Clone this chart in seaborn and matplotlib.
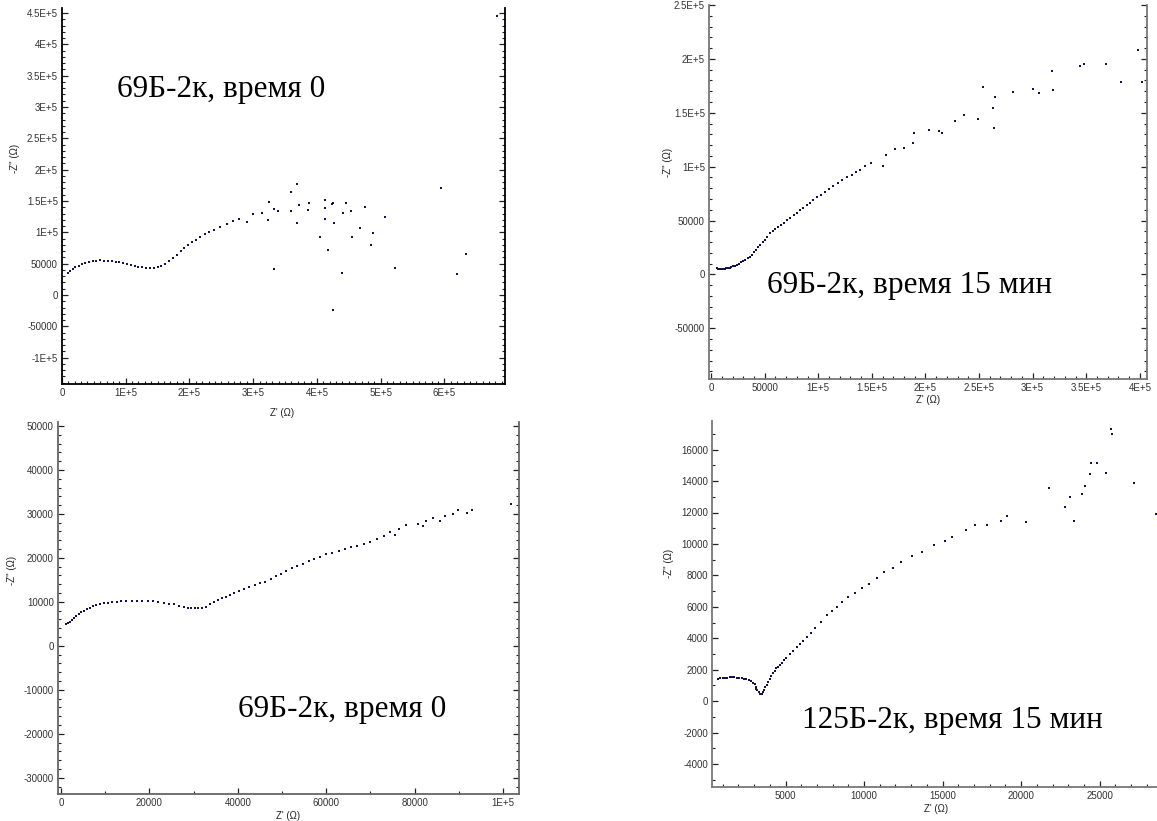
import numpy as np
import pandas as pd
import matplotlib
matplotlib.use("Agg")
import matplotlib.pyplot as plt
from matplotlib.ticker import MultipleLocator, FuncFormatter
import seaborn as sns

sns.set_theme(style="white")
plt.rcParams['font.family'] = ['Liberation Sans', 'DejaVu Sans']

# ---------------- data (kOhm) ----------------
# Panel 1: 69Б-2к, время 0 (top-left)
p1_re = [10, 13, 17, 21, 26, 31, 36, 42, 48, 54, 60, 66, 72, 78, 84, 90, 96, 102, 108, 114,
         120, 126, 132, 138, 144, 150, 156, 162, 168, 174, 180, 186, 192, 198, 204, 210, 217,
         224, 231, 238, 248, 259, 268, 277, 290, 300, 314, 323,
         325, 332, 339, 332, 360, 369, 372, 360, 369, 388, 386, 404, 413, 413, 413, 418, 423,
         425, 427, 425, 439, 441, 445, 453, 455, 467, 475, 484, 488, 507, 523, 595, 620, 634, 683]
p1_im = [35, 38, 41, 44, 46.5, 49, 51, 52.5, 54, 55, 55.5, 55, 54.5, 54, 53, 52, 51, 49.5, 48,
         46.5, 45, 44, 43, 42.5, 43.5, 45, 47, 50, 54, 59, 64, 70, 75, 80, 84, 88, 93, 97, 101,
         104, 109, 114, 118, 122, 117, 129, 130.5, 120,
         148.6, 137, 134, 41.5, 165, 177, 143, 134, 115.5, 147, 135, 93, 151, 139.5, 121, 72, 145,
         147, 115.5, -24, 35.6, 131, 147, 134, 93, 107.5, 140, 79.4, 99.5, 125, 43, 171.5, 33.5,
         65.5, 446]

# Panel 2: 69Б-2к, время 15 мин (top-right)
p2_re = [5.5, 6.5, 7.5, 8.5, 9.5, 10.5, 11.5, 12.5, 13.5, 14.5, 15.5, 16.5, 17.5, 18.5, 20, 22,
         24, 26, 28, 30, 32, 34, 36, 38, 40, 42, 44, 46, 48, 50, 52.5, 55, 57.5, 60, 62.5, 65, 68,
         71, 74, 77, 80, 83, 86, 89, 92, 95.5, 99, 102.5, 106, 110, 114, 118, 122, 126.5, 131,
         135, 139, 144, 149.6, 160.8, 163.2, 172, 180, 188.7, 189.4, 203, 213, 215, 228, 235.8,
         248.8, 254, 262.8, 264.3, 265, 282, 300.4, 305.7, 318, 319, 344.2, 348, 368.5, 382.4,
         398.3, 402]
p2_im = [5.6, 5.5, 5.4, 5.4, 5.4, 5.4, 5.4, 5.5, 5.6, 5.7, 5.9, 6.1, 6.4, 6.8, 7.4, 8.3, 9.2,
         10.1, 11.2, 12.4, 13.7, 15.0, 16.3, 18.2, 20.5, 22.9, 25.2, 27.5, 29.8, 32.0, 35.0, 38.0,
         40.0, 41.8, 43.8, 45.9, 48.2, 50.5, 52.8, 55.1, 57.4, 59.6, 61.9, 64.1, 66.3, 68.9, 71.5,
         74.0, 76.6, 79.4, 82.3, 84.8, 87.3, 90.0, 92.5, 94.6, 96.5, 100.7, 103.0, 100.5, 110.7,
         116, 117.4, 122.4, 130.8, 133.8, 133, 130.8, 142.5, 148.4, 143.8, 174, 154, 136, 164.7,
         169.4, 172.5, 168.5, 189.2, 171, 193.2, 195.7, 195.7, 178.7, 208.7, 178.2]

# Panel 3: 69Б-2к, время 0 (bottom-left)
p3_re = [1.2, 1.6, 2.0, 2.5, 3.0, 3.5, 4.0, 4.6, 5.2, 5.8, 6.5, 7.2, 8.0, 8.8, 9.7, 10.6, 11.6,
         12.6, 13.7, 14.8, 16.0, 17.2, 18.4, 19.6, 20.8, 22.0, 23.2, 24.4, 25.6, 26.8, 27.8, 28.7,
         29.5, 30.3, 31.1, 31.9, 32.8, 33.7, 34.6, 35.5, 36.4, 37.3, 38.2, 39.2, 40.3, 41.4, 42.6,
         43.8, 45.0, 46.2, 47.4, 48.6, 49.8, 51.0, 52.2, 53.4, 54.7, 56.0, 57.3, 58.6, 60.0, 61.4,
         62.8, 64.2, 65.6, 67.0, 68.5, 70.0, 71.5, 73.0, 74.5, 75.6, 76.4, 78.1, 80.7, 82.0, 82.6,
         84.1, 85.8, 86.9, 88.7, 89.8, 91.9, 93.0, 101.8]
p3_im = [5.0, 5.2, 5.5, 5.9, 6.3, 6.7, 7.2, 7.6, 8.0, 8.3, 8.7, 9.0, 9.3, 9.5, 9.7, 9.8, 9.9,
         10.0, 10.1, 10.2, 10.3, 10.3, 10.3, 10.2, 10.1, 10.0, 9.8, 9.6, 9.4, 9.1, 8.9, 8.7,
         8.6, 8.6, 8.6, 8.7, 8.9, 9.5, 10.0, 10.4, 10.8, 11.2, 11.6, 12.0, 12.5, 12.9, 13.4,
         13.9, 14.3, 14.6, 15.2, 15.8, 16.4, 17.0, 17.6, 18.1, 18.7, 19.2, 19.8, 20.3, 20.8, 21.2,
         21.6, 22.0, 22.4, 22.8, 23.2, 23.7, 24.4, 24.9, 25.9, 25.2, 26.5, 27.4, 27.8, 27.3, 28.4,
         29.0, 28.4, 29.5, 29.9, 31.0, 30.3, 31.0, 32.2]

# Panel 4: 125Б-2к, время 15 мин (bottom-right), Ohm
p4_re = [700, 850, 1000, 1150, 1300, 1450, 1600, 1750, 1900, 2050, 2200, 2350, 2500, 2650, 2800,
         2950, 3050, 3150, 3100, 3200, 3300, 3400, 3480, 3560, 3640, 3720, 3800, 3900, 4000, 4100,
         4200, 4300, 4400, 4500, 4620, 4750, 4900, 5060, 5270, 5490, 5700, 5910, 6120, 6340, 6600,
         6870, 7240, 7610, 7930, 8250, 8620, 8990, 9420, 9850, 10330, 10800, 11290, 11860, 12370,
         13050, 13670, 14460, 15140, 15590, 16500, 17090, 17840, 18690, 19070, 20330, 21750,
         22810, 23130, 23370, 23880, 24090, 24390, 24430, 24830, 25380, 25730, 25750, 27150, 28610]
p4_im = [1430, 1450, 1470, 1490, 1500, 1510, 1510, 1510, 1500, 1490, 1470, 1440, 1400, 1350, 1280,
         1180, 1060, 920, 800, 680, 560, 470, 440, 560, 720, 880, 1040, 1230, 1420, 1600,
         1780, 1950, 2110, 2200, 2300, 2450, 2600, 2750, 2980, 3200, 3420, 3630, 3840, 4060, 4330,
         4670, 5050, 5480, 5740, 6010, 6300, 6600, 6890, 7180, 7470, 7850, 8200, 8470, 8870,
         9210, 9470, 9940, 10170, 10460, 10890, 11230, 11230, 11460, 11800, 11400, 13550,
         12360, 12970, 11440, 13160, 13690, 14440, 15180, 15180, 14500, 17320, 17020, 13860, 11910]

labels = ["69Б-2к, время 0", "69Б-2к, время 15 мин", "69Б-2к, время 0", "125Б-2к, время 15 мин"]
ylab = "-Z'' (\u03a9)"
xlab = "Z' (\u03a9)"

W, H = 1157, 821
fig = plt.figure(figsize=(W / 100, H / 100), dpi=100)
fig.patch.set_facecolor("white")


def rect(l, r, t, b):
    return [l / W, 1 - b / H, (r - l) / W, (b - t) / H]


def efmt(v, pos):
    if abs(v) >= 1e5 - 1:
        m = v / 1e5
        return f"{m:g}E+5"
    return f"{int(round(v))}"


dot = "#12124f"


def panel(box, x, y, xlim, ylim, xmaj, xmin_, ymaj, ymin_, spine_col, text, tpos,
          ylpos, xlpos, right=True):
    ax = fig.add_axes(rect(*box))
    df = pd.DataFrame({"re": x, "im": y})
    sns.scatterplot(data=df, x="re", y="im", ax=ax, marker="s", s=4.5, color=dot,
                    linewidth=0, legend=False)
    ax.set_xlim(*xlim)
    ax.set_ylim(*ylim)
    ax.xaxis.set_major_locator(MultipleLocator(xmaj))
    ax.xaxis.set_minor_locator(MultipleLocator(xmin_))
    ax.yaxis.set_major_locator(MultipleLocator(ymaj))
    ax.yaxis.set_minor_locator(MultipleLocator(ymin_))
    ax.xaxis.set_major_formatter(FuncFormatter(efmt))
    ax.yaxis.set_major_formatter(FuncFormatter(efmt))
    ax.tick_params(which="both", direction="in", left=True, right=right, bottom=True,
                   top=False, colors="#222222", labelcolor="#333333", labelsize=7,
                   pad=3)
    ax.tick_params(which="major", length=4, width=0.9)
    ax.tick_params(which="minor", length=2, width=0.8)
    for s in ["left", "bottom", "right"]:
        ax.spines[s].set_color(spine_col)
        ax.spines[s].set_linewidth(1.3)
    ax.spines["top"].set_visible(False)
    ax.spines["right"].set_visible(right)
    ax.set_ylabel(ylab, fontsize=7, color="#222222")
    ax.set_xlabel(xlab, fontsize=7, color="#222222")
    ax.yaxis.set_label_coords(*ylpos)
    ax.xaxis.set_label_coords(*xlpos)
    ax.text(tpos[0], tpos[1], text, transform=ax.transAxes, ha="left", va="center",
            fontsize=22.5, family=["Liberation Serif", "DejaVu Serif"], color="black")
    ax.grid(False)
    return ax


k = 1000.0
panel((62, 505, 8, 384), np.array(p1_re) * k, np.array(p1_im) * k,
      (0, 6.95e5), (-1.42e5, 4.58e5), 1e5, 1e4, 5e4, 1e4, "black", labels[0],
      (0.124, 0.782), (-0.095, 0.60), (0.496, -0.065))
panel((709, 1147, 5, 379), np.array(p2_re) * k, np.array(p2_im) * k,
      (-2000, 4.067e5), (-0.97e5, 2.5e5), 5e4, 1e4, 5e4, 1e4, "#777777", labels[1],
      (0.132, 0.251), (-0.082, 0.58), (0.5, -0.044))
panel((58, 519, 422, 794), np.array(p3_re) * k, np.array(p3_im) * k,
      (-660, 1.036e5), (-33700, 50900), 2e4, 1e4, 1e4, 2e3, "#666666", labels[2],
      (0.39, 0.228), (-0.088, 0.60), (0.5, -0.047))
panel((712, 1161, 421, 787), np.array(p4_re), np.array(p4_im),
      (320, 28900), (-5460, 17820), 5000, 1000, 2000, 1000, "#777777", labels[3],
      (0.2015, 0.182), (-0.085, 0.61), (0.5, -0.047), right=False)

fig.savefig("out.png", dpi=100, facecolor="white")
